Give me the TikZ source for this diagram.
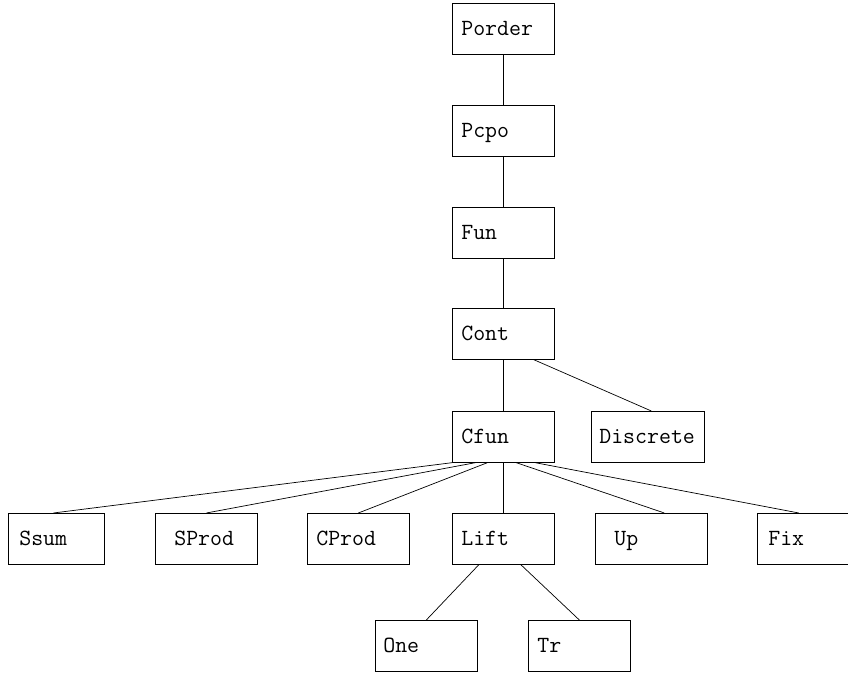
\documentclass[tikz,border=0pt]{standalone}
\usepackage{tikz}

\begin{document}
\begin{tikzpicture}[x=0.02cm,y=-0.02cm,
    box/.style={draw, rectangle, anchor=north west, minimum width=2.04cm, minimum height=1.02cm,
        inner xsep=0.18cm, inner ysep=0pt, text width=1.68cm, align=left,
        text height=8pt, text depth=0pt, font=\fontsize{13.2}{15}\selectfont\ttfamily}]
    \useasboundingbox (0,0) rectangle (848,675);
    % chain
    \node [box] (porder) at (452,3) {Porder};
    \node [box] (pcpo) at (452,105) {Pcpo};
    \node [box] (fun) at (452,207) {Fun};
    \node [box] (cont) at (452,308) {Cont};
    \node [box] (cfun) at (452,411) {Cfun};
    \node [box, minimum width=2.26cm, text width=1.94cm, inner xsep=0.16cm] (discrete) at (591,411) {Discrete};
    % row below Cfun
    \node [box, minimum width=1.92cm, text width=1.48cm, inner xsep=0.22cm] (ssum) at (8,513) {Ssum};
    \node [box] (sprod) at (155,513) {\hspace*{0.2cm}SProd};
    \node [box] (cprod) at (307,513) {CProd};
    \node [box] (lift) at (452,513) {Lift};
    \node [box, minimum width=2.24cm, text width=1.88cm] (up) at (595,513) {\hspace*{0.2cm}Up};
    \node [box, inner xsep=0.22cm, text width=1.86cm] (fix) at (757,513) {Fix};
    \node [box, inner xsep=0.16cm, text width=1.72cm] (one) at (375,620) {One};
    \node [box] (tr) at (528,620) {Tr};
    % edges
    \draw (porder.south) -- (pcpo.north);
    \draw (pcpo.south) -- (fun.north);
    \draw (fun.south) -- (cont.north);
    \draw (cont.south) -- (cfun.north);
    \draw ([xshift=0.61cm]cont.south) -- ([xshift=0.07cm]discrete.north);
    \draw (cfun.south west) -- ([xshift=-0.06cm]ssum.north);
    \draw ([xshift=-0.56cm]cfun.south) -- (sprod.north);
    \draw ([xshift=-0.32cm]cfun.south) -- (cprod.north);
    \draw (cfun.south) -- (lift.north);
    \draw ([xshift=0.26cm]cfun.south) -- ([xshift=0.26cm]up.north);
    \draw ([xshift=0.64cm]cfun.south) -- ([xshift=-0.32cm]fix.north);
    \draw ([xshift=-0.49cm]lift.south) -- (one.north);
    \draw ([xshift=0.35cm]lift.south) -- (tr.north);
\end{tikzpicture}
\end{document}
